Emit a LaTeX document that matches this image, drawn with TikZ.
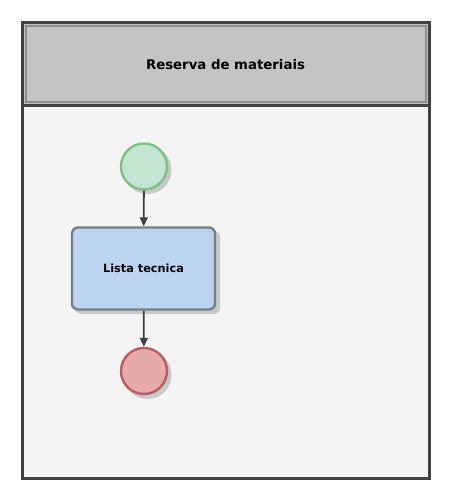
\documentclass[tikz,border=0pt]{standalone}
\usepackage{fontspec}
\setmainfont{DejaVu Sans}
\usetikzlibrary{arrows.meta}
\definecolor{frameC}{HTML}{404040}
\definecolor{headC}{HTML}{C4C4C4}
\definecolor{bodyC}{HTML}{F4F4F4}
\definecolor{startF}{HTML}{C3E6D3}
\definecolor{startD}{HTML}{7DC07F}
\definecolor{endF}{HTML}{E6AAAB}
\definecolor{endD}{HTML}{B65C62}
\definecolor{taskF}{HTML}{BDD4F0}
\definecolor{taskD}{HTML}{73808E}
\definecolor{shadC}{HTML}{C8C8C8}
\tikzset{
  evt/.style={circle, minimum size=46pt, inner sep=0pt, line width=2.4pt},
  taskbox/.style={rectangle, rounded corners=6pt, minimum width=143pt, minimum height=82pt, fill=taskF, draw=taskD, line width=2.4pt, font=\bfseries\fontsize{11.3}{13}\selectfont},
  flow/.style={draw=frameC, line width=1.8pt, -{Triangle[length=9pt,width=8pt]}},
}
\begin{document}
\begin{tikzpicture}[x=1pt,y=-1pt]
\useasboundingbox (0,0) rectangle (462,502);
\fill[white] (0,0) rectangle (462,502);
% pool
\fill[bodyC] (22,106) rectangle (429,478);
\fill[headC] (22,23) rectangle (429,106);
\draw[gray!90, line width=2pt] (25.5,26.5) rectangle (425.5,102.5);
\draw[frameC, line width=3pt] (22,23) rectangle (429,478);
\draw[frameC, line width=3pt] (22,106) -- (429,106);
\node[font=\bfseries\fontsize{13.3}{15}\selectfont] (title) at (225.5,65) {Reserva de materiais};
% shadows
\fill[shadC] (147.5,170) circle (24pt);
\fill[shadC] (147.5,375) circle (24pt);
\fill[shadC, rounded corners=6pt] (75,231) rectangle (220,314);
% nodes
\node[evt, fill=startF, draw=startD] (start) at (144,166.5) {};
\node[taskbox] (task) at (143.5,268.5) {Lista tecnica};
\node[evt, fill=endF, draw=endD] (end) at (144,371) {};
\draw[flow] (start) -- (task);
\draw[flow] (task) -- (end);
\end{tikzpicture}
\end{document}
